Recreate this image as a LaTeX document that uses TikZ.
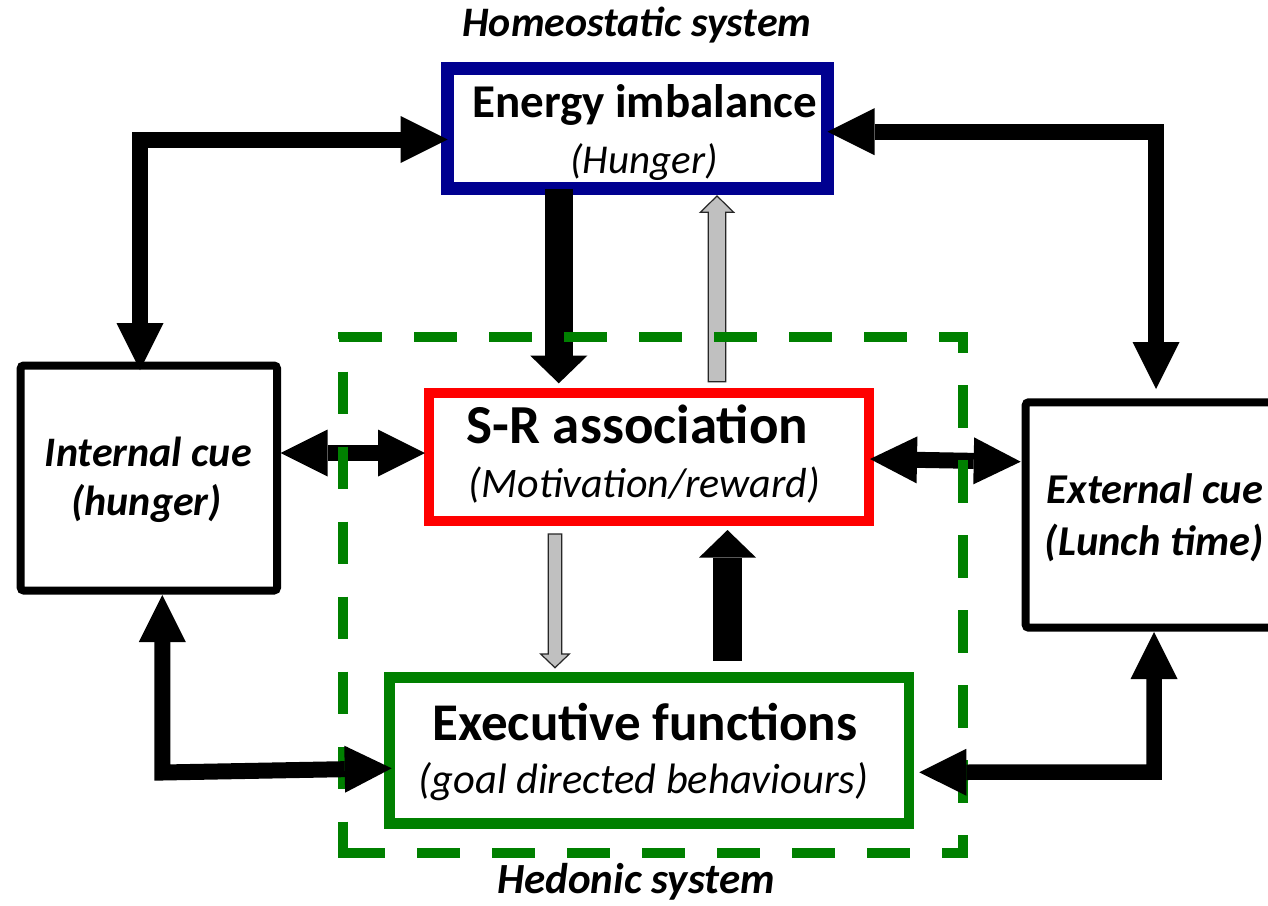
\documentclass[tikz,border=0pt]{standalone}
\usepackage{fontspec}
\setmainfont{Carlito}
\usetikzlibrary{arrows.meta,calc}
\definecolor{navy}{RGB}{0,0,144}
\definecolor{dgreen}{RGB}{0,128,0}
\definecolor{lgray}{RGB}{192,192,192}
\tikzset{
  box/.style={draw, fill=white, inner sep=0pt, outer sep=0pt},
  lbl/.style={anchor=base, inner sep=0pt, outer sep=0pt, text=black},
  ttl/.style={lbl, font=\bfseries\fontsize{#1}{#1}\selectfont},
  sub/.style={lbl, font=\itshape\fontsize{#1}{#1}\selectfont},
  cue/.style={lbl, font=\bfseries\itshape\fontsize{#1}{#1}\selectfont},
  twoway/.style={draw=black, line width=#1, line join=miter,
    {Triangle[length=47pt,width=47pt,line width=0pt]}-{Triangle[length=47pt,width=47pt,line width=0pt]}},
  fatarrow/.style={draw=black, line width=28.5pt,
    -{Triangle[length=27.6pt,width=57pt,line width=0pt]}},
  grayarrow/.style={draw=black!85, line width=1.2pt, fill=lgray, line join=miter},
  dashside/.style={draw=dgreen, line width=10pt, dash pattern=on 42.5pt off 32.5pt},
}
\begin{document}
\begin{tikzpicture}[x=1pt,y=-1pt]
\clip (0,0) rectangle (1268,905);
\fill[white] (0,0) rectangle (1268,905);

% boxes
\node[box, draw=navy, line width=13pt, minimum width=380pt, minimum height=120pt] (en) at (637.5,128.5) {};
\node[box, draw=red, line width=10pt, minimum width=439.7pt, minimum height=128pt] (sr) at (648.85,457.3) {};
\node[box, draw=dgreen, line width=10.5pt, minimum width=519.5pt, minimum height=145.6pt] (ex) at (649.25,750.5) {};
\node[box, draw=black, line width=8pt, rounded corners=3pt, minimum width=256.3pt, minimum height=225pt] (ic) at (148.85,478) {};
\node[box, draw=black, line width=8pt, rounded corners=3pt, minimum width=264.3pt, minimum height=225.4pt] (ec) at (1157.85,515) {};

% vertical arrows between blue, red and green boxes
\draw[fatarrow] ($(en.south)+(-78.7,0)$) -- ($(sr.north)+(-90.05,-10)$);
\draw[grayarrow] (708.3,381.7) -- (708.3,212.3) -- (700.3,212.3) -- (717,196)
  -- (733.7,212.3) -- (725.7,212.3) -- (725.7,381.7) -- cycle;
\draw[grayarrow] (548.3,534) -- (548.3,654) -- (540.7,654) -- (555,667.7)
  -- (569.3,654) -- (561.7,654) -- (561.7,534) -- cycle;
\draw[fatarrow] ($(ex.north)+(78.25,-17)$) -- ($(sr.south)+(78.65,8.7)$);

% middle two-way arrows
\draw[twoway=16pt] ($(ic.east)+(3.7,-25)$) -- ($(sr.west)+(-4,-4.3)$);
\draw[twoway=16pt] ($(sr.east)+(1.3,1.7)$) -- ($(ec.west)+(-5,-53.3)$);

% hedonic frame
\draw[dashside, dash phase=73.4pt] (337.7,337) -- (968.3,337);
\draw[dashside, dash phase=22pt] (963,332) -- (963,858.3);
\draw[dashside, dash phase=70.7pt] (337.7,853.3) -- (968.3,853.3);
\draw[dashside, dash phase=35.3pt] (342.7,332) -- (342.7,858.3);

% top L arrows
\coordinate (c1) at (140,139.5);
\draw[twoway=16pt, shorten >=-4.5pt] (c1 -| en.west) -- (c1) -- (c1 |- ic.north);
\coordinate (c2) at (1156,131.7);
\draw[twoway=16pt, shorten >=13.3pt] (c2 -| en.east) -- (c2) -- (c2 |- ec.north);

% bottom L arrows
\coordinate (c3) at (162.3,772.5);
\draw[twoway=16pt] ($(ic.south)+(13.45,4.5)$) -- (c3) -- ($(ex.west)+(2.2,17.8)$);
\coordinate (c4) at (1154,772);
\draw[twoway=15.5pt] ($(ec.south)+(-3.85,4.3)$) -- (c4) -- ($(ex.east)+(10.3,21.8)$);

% texts
\node[cue=42] (hom) at (637,36) {Homeostatic system};
\node[ttl=47] (t1) at (644.5,117) {Energy imbalance};
\node[sub=41] (s1) at (644,173) {(Hunger)};
\node[ttl=55] (t2) at (637.5,443) {S-R association};
\node[sub=42] (s2) at (644.5,497) {(Motivation/reward)};
\node[ttl=53] (t3) at (645,740) {Executive functions};
\node[sub=42.5] (s3) at (643.5,793) {(goal directed behaviours)};
\node[cue=42] (i1) at (148.3,466) {Internal cue};
\node[cue=42] (i2) at (146.7,515) {(hunger)};
\node[cue=42.5] (e1) at (1154.9,503.3) {External cue};
\node[cue=42.5] (e2) at (1154.2,555) {(Lunch time)};
\node[cue=43] (hed) at (636,893) {Hedonic system};
\end{tikzpicture}
\end{document}
